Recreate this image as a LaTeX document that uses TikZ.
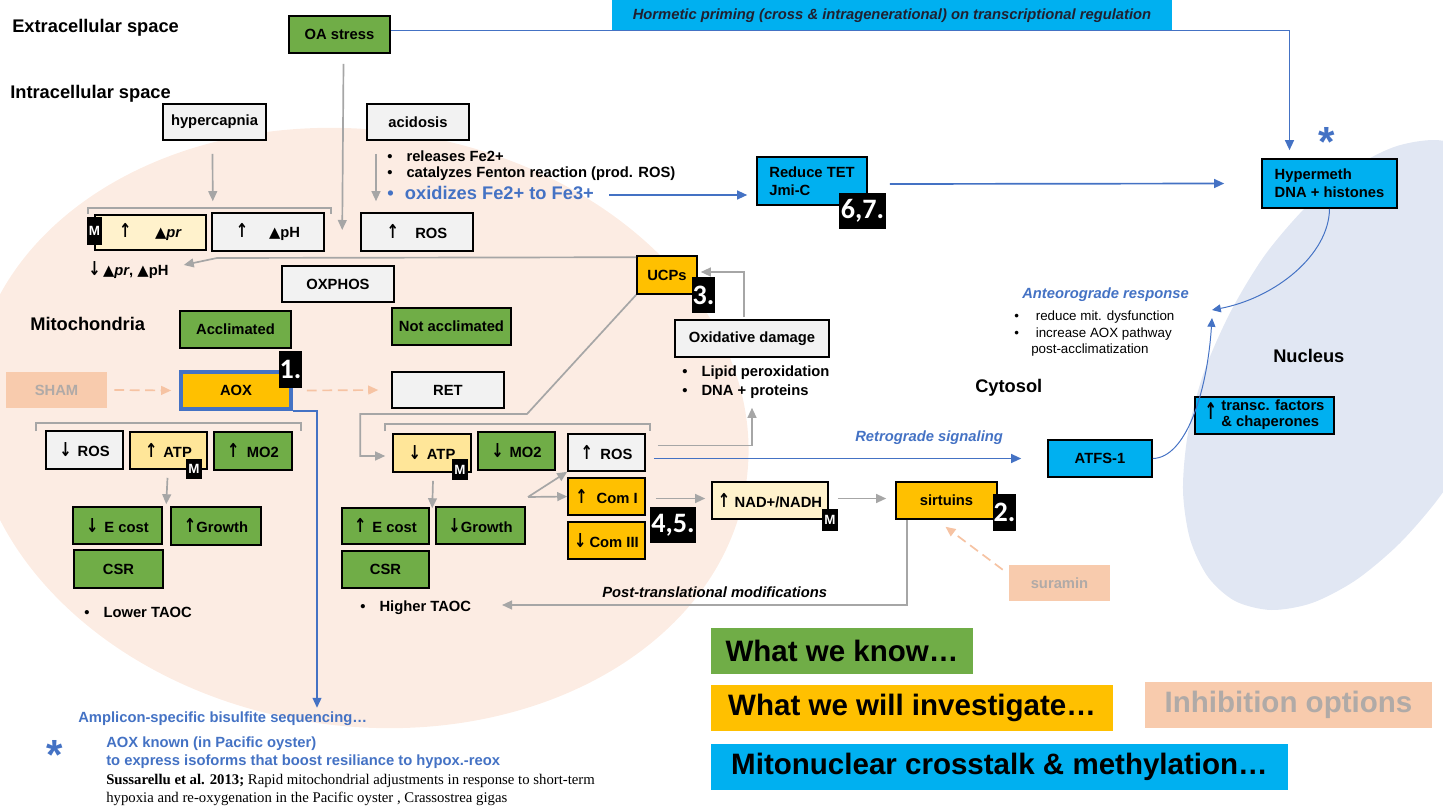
\documentclass[tikz,border=0pt]{standalone}
\usepackage{fontspec}
\setmainfont{Liberation Sans}
\newfontfamily\refserif{Liberation Serif}
\newfontfamily\digitfont{Carlito}
\newfontfamily\symfont{DejaVu Sans}
\usetikzlibrary{arrows.meta, positioning, calc}

\definecolor{knowgreen}{HTML}{70AD47}
\definecolor{investorange}{HTML}{FFC000}
\definecolor{crossblue}{HTML}{00B0F0}
\definecolor{boxgrey}{HTML}{F2F2F2}
\definecolor{paleyellow}{HTML}{FFF2CC}
\definecolor{atpyellow}{HTML}{FFE699}
\definecolor{inhibpeach}{HTML}{F8CBAD}
\definecolor{inhibtext}{HTML}{B0AAA7}
\definecolor{dashpeach}{HTML}{F6C3A3}
\definecolor{mitofill}{HTML}{FCECE3}
\definecolor{nucfill}{HTML}{E1E7F3}
\definecolor{linkblue}{HTML}{4472C4}
\definecolor{arrowgrey}{HTML}{A6A6A6}
\definecolor{bannertext}{HTML}{202030}

\newcommand\boxfont{\fontsize{10.5}{12.6}\selectfont\bfseries}
\newcommand\regionfont{\fontsize{13}{15}\selectfont\bfseries}
\newcommand\mfont{\fontsize{9.5}{10}\selectfont\bfseries}
\newcommand\numfont{\digitfont\fontsize{20}{20}\selectfont\bfseries}
\newcommand\slantfont{\fontsize{10.5}{12.6}\selectfont\bfseries\itshape}
\newcommand\anteofont{\fontsize{9.5}{11}\selectfont}
\newcommand\reffont{\refserif\fontsize{10.5}{12.6}\selectfont}
\newcommand\legendfont{\fontsize{21}{24}\selectfont\bfseries}
\newcommand\astfont{\fontsize{30}{30}\selectfont\bfseries}
\newcommand\upar{\scalebox{1}[1.3]{\symfont ↑}}
\newcommand\dnar{\scalebox{1}[1.3]{\symfont ↓}}
\newcommand\tri{{\symfont ▲}}
\newcommand\bul{\textbullet\hspace{10pt}}

\begin{document}
\begin{tikzpicture}[
  x=0.025cm, y=-0.025cm,
  wh/.style 2 args = {minimum width=#1*0.025cm, minimum height=#2*0.025cm},
  box/.style = {draw, line width=1.1pt, inner sep=1pt, align=center, font=\boxfont},
  know/.style = {box, fill=knowgreen},
  invest/.style = {box, fill=investorange},
  greybox/.style = {box, fill=boxgrey},
  pale/.style = {box, fill=paleyellow},
  atp/.style = {box, fill=atpyellow},
  xtalk/.style = {box, fill=crossblue},
  inhib/.style = {fill=inhibpeach, text=inhibtext, inner sep=1pt, font=\boxfont},
  mtag/.style = {fill=black, text=white, inner sep=0pt, font=\mfont},
  numtag/.style = {fill=black, text=white, inner sep=0pt, font=\numfont},
  region/.style = {anchor=west, inner sep=0pt, font=\regionfont},
  bulletnote/.style = {anchor=west, inner sep=0pt, align=left, font=\boxfont},
  legendbox/.style = {inner sep=0pt, font=\legendfont},
  greyarrow/.style = {draw=arrowgrey, line width=1.2pt, -{Triangle[length=2.5mm, width=2.2mm]}},
  bluearrow/.style = {draw=linkblue, line width=1.2pt, -{Triangle[length=2.5mm, width=2.2mm]}},
  bluecurve/.style = {draw=linkblue, line width=0.7pt, -{Triangle[length=2.2mm, width=2mm]}},
  inhibarrow/.style = {draw=dashpeach, line width=1.2pt, dash pattern=on 7pt off 4pt, -{Triangle[length=2.5mm, width=2.2mm]}},
  bracket/.style = {draw=arrowgrey, line width=1.2pt}
]
  \useasboundingbox (0,0) rectangle (1443,809);

  % Compartments
  \fill[mitofill, rotate around={-8:(360,428)}] (360,428) ellipse [x radius=9.75cm, y radius=7.45cm];
  \fill[nucfill] plot[smooth cycle] coordinates {
    (1471,149) (1498,173) (1516,211) (1523,260) (1518,317) (1502,378)
    (1475,439) (1441,495) (1400,543) (1356,580) (1312,603) (1271,610)
    (1235,601) (1208,577) (1190,539) (1183,490) (1188,433) (1204,372)
    (1231,311) (1265,255) (1306,207) (1350,170) (1394,147) (1435,140)};

  \node[region] (extra) at (12,28) {Extracellular space};
  \node[region] (intra) at (10,94) {Intracellular space};
  \node[region] (mitolabel) at (30,324) {Mitochondria};
  \node[region] (cytosol) at (975,388) {Cytosol};
  \node[region] (nucleus) at (1273,356) {Nucleus};

  % Stress input
  \node[know, wh={101}{37}] (oastress) at (339.5,34.5) {OA stress};
  \node[fill=crossblue, text=bannertext, inner sep=0pt, wh={560}{31}, font=\slantfont] (hormetic) at (892,15.5) {Hormetic priming (cross \& intragenerational) on transcriptional regulation};
  \node[greybox, wh={103}{36}] (hypercapnia) at (214.5,122) {hypercapnia};
  \node[greybox, wh={102}{36}] (acidosis) at (418,122) {acidosis};
  \node[bulletnote] (fe) at (387,156) {\bul releases Fe2+};
  \node[bulletnote] (fenton) at (387,174) {\bul catalyzes Fenton reaction (prod. ROS)};
  \node[bulletnote, text=linkblue, font=\regionfont] (oxidizes) at (387,193) {\textbullet\hspace{8pt}oxidizes Fe2+ to Fe3+};

  \node[pale, wh={111}{35}] (prbox) at (150.5,232.5) {\upar\hspace{1.6em}\tri\textit{pr}};
  \node[greybox, wh={112}{38}] (phbox) at (268,232) {\upar\hspace{1.4em}\tri pH};
  \node[greybox, wh={112}{38}] (rostop) at (417,232) {\upar\hspace{1.1em}ROS};
  \node[mtag, wh={15}{28}] (mpr) at (94.5,231) {M};
  \node[bulletnote] (prdown) at (88,270) {\dnar\,\tri\textit{pr}, \tri pH};

  % Mitochondria
  \node[greybox, wh={112}{36}] (oxphos) at (338,284) {OXPHOS};
  \node[know, wh={111}{37}] (acclim) at (235.5,329.5) {Acclimated};
  \node[know, wh={119}{37}] (notacclim) at (451.5,326.5) {Not acclimated};
  \node[inhib, wh={101}{36}] (sham) at (56.5,390) {SHAM};
  \node[invest, draw=linkblue, line width=2.6pt, wh={110}{37}] (aox) at (236,390.5) {AOX};
  \node[numtag, wh={23}{37}] (tag1) at (290.5,369.5) {1.};
  \node[greybox, wh={112}{36}] (ret) at (448,390) {RET};

  % Acclimated branch
  \node[greybox, wh={77}{38}] (rosdown) at (84.5,450) {\dnar\hspace{0.4em}ROS};
  \node[atp, wh={77}{37}] (atpup) at (168.5,450.5) {\upar\hspace{0.4em}ATP};
  \node[know, wh={78}{38}] (mo2up) at (253,451) {\upar\hspace{0.5em}MO2};
  \node[mtag, wh={16}{20}] (matpup) at (194,468.5) {M};
  \node[know, wh={89}{37}] (ecostdown) at (117.5,525.5) {\dnar\hspace{0.4em}E cost};
  \node[know, wh={90}{38}] (growthup) at (216,526) {\upar Growth};
  \node[know, wh={89}{38}] (csrlow) at (118.5,569) {CSR};
  \node[bulletnote] (lowertaoc) at (84,612) {\bul Lower TAOC};

  % Not acclimated branch
  \node[atp, wh={78}{38}] (atpdown) at (432,453) {\dnar\hspace{0.4em}ATP};
  \node[know, wh={77}{38}] (mo2down) at (516.5,451) {\dnar\hspace{0.4em}MO2};
  \node[greybox, wh={77}{37}] (rosmid) at (606.5,452.5) {\upar\hspace{0.5em}ROS};
  \node[invest, wh={77}{37}] (comi) at (606.5,496.5) {\upar\hspace{0.6em}Com I};
  \node[invest, wh={77}{37}] (comiii) at (606.5,540.5) {\dnar\hspace{0.2em}Com III};
  \node[mtag, wh={16}{21}] (matpdown) at (460,469.5) {M};
  \node[numtag, wh={46}{36}] (tag45) at (673,525) {4,5.};
  \node[know, wh={87}{36}] (ecostup) at (385.5,526) {\upar\hspace{0.4em}E cost};
  \node[know, wh={89}{37}] (growthdown) at (480.5,525.5) {\dnar Growth};
  \node[know, wh={87}{37}] (csrhigh) at (385.5,569.5) {CSR};
  \node[bulletnote] (highertaoc) at (360,608) {\bul Higher TAOC};

  % Damage and uncoupling
  \node[invest, wh={60}{38}] (ucps) at (667,275) {UCPs};
  \node[numtag, wh={23}{36}] (tag3) at (703.5,295) {3.};
  \node[greybox, wh={154}{37}] (oxdamage) at (752,338.5) {Oxidative damage};
  \node[bulletnote] (lipid) at (682,373) {\bul Lipid peroxidation};
  \node[bulletnote] (dna) at (682,392) {\bul DNA + proteins};

  % NAD and sirtuins
  \node[pale, wh={116}{37}] (nad) at (770,500.5) {\upar\hspace{0.3em}NAD+/NADH};
  \node[mtag, wh={16}{22}] (mnad) at (830,520) {M};
  \node[invest, wh={101}{37}] (sirtuins) at (946.5,500.5) {sirtuins};
  \node[numtag, wh={23}{37}] (tag2) at (1004.5,512.5) {2.};
  \node[inhib, wh={101}{36}] (suramin) at (1059.5,583) {suramin};
  \node[bulletnote, font=\slantfont] (ptm) at (602,592) {Post-translational modifications};

  % Nuclear side
  \node[xtalk, wh={110}{48}, align=left] (reducetet) at (812,181) {Reduce TET\\Jmi-C};
  \node[numtag, wh={47}{36}] (tag67) at (862.5,211) {6,7.};
  \node[font=\astfont, text=linkblue, inner sep=0pt] (astop) at (1327,142) {*};
  \node[xtalk, wh={135}{49}, align=left] (hypermeth) at (1329.5,183.5) {Hypermeth\\DNA + histones};
  \node[xtalk, wh={104}{37}] (atfs) at (1100,458.5) {ATFS-1};
  \node[xtalk, wh={139}{37}, font=\fontsize{10.5}{11.5}\selectfont\bfseries] (transc) at (1264.5,415.5)
    {\scalebox{1}[1.2]{\upar}\hspace{0.3em}\begin{tabular}[c]{@{}l@{}}transc. factors\\ \& chaperones\end{tabular}};
  \node[bulletnote, text=linkblue, font=\slantfont] (retro) at (855,438) {Retrograde signaling};
  \node[bulletnote, text=linkblue, font=\slantfont] (anteo) at (1022,295) {Anteorograde response};
  \node[bulletnote, font=\anteofont] (anteoa) at (1014,317) {\textbullet\hspace{12pt}reduce mit. dysfunction};
  \node[bulletnote, font=\anteofont] (anteob) at (1014,334) {\textbullet\hspace{12pt}increase AOX pathway};
  \node[bulletnote, font=\anteofont] (anteoc) at (1031,350) {post-acclimatization};

  % Notes below
  \node[bulletnote, text=linkblue] (amplicon) at (78,719) {Amplicon-specific bisulfite sequencing…};
  \node[font=\astfont, text=linkblue, inner sep=0pt] (astbottom) at (55,755) {*};
  \node[bulletnote, text=linkblue] (aoxknown) at (106,744) {AOX known (in Pacific oyster)};
  \node[bulletnote, text=linkblue] (isoforms) at (106,762) {to express isoforms that boost resiliance to hypox.-reox};
  \node[bulletnote, font=\reffont] (refa) at (106,781) {\textbf{Sussarellu et al. 2013;} Rapid mitochondrial adjustments in response to short-term};
  \node[bulletnote, font=\reffont] (refb) at (106,799) {hypoxia and re-oxygenation in the Pacific oyster , Crassostrea gigas};

  % Legend
  \node[legendbox, fill=knowgreen, wh={262}{46}] (legknow) at (842,651) {What we know…};
  \node[legendbox, fill=investorange, wh={402}{46}] (leginvest) at (912,708) {What we will investigate…};
  \node[legendbox, fill=inhibpeach, text=inhibtext, wh={287}{46}] (leginhib) at (1288.5,705) {Inhibition options};
  \node[legendbox, fill=crossblue, wh={577}{46}] (legxtalk) at (999.5,767) {Mitonuclear crosstalk \& methylation…};

  % Bends and free ends
  \coordinate (pbend) at (217,258);
  \coordinate (ucpbend) at (527,414);
  \coordinate (fork) at (528,497);
  \coordinate (ptmend) at (502,605);
  \coordinate (anteoend) at (1212,310);
  \coordinate (anteoup) at (1212,318);

  % Connections
  \draw[bluearrow] ($(oastress.east)+(0,-4)$) -| ($(hypermeth.north)+(-40,-8)$);
  \draw[greyarrow] ($(oastress.south)+(4,10)$) -- ($(rostop.west)+(-18,-2)$);
  \draw[greyarrow] ($(hypercapnia.south)+(-2,13)$) -- ($(prbox.north east)+(6,-13)$);
  \draw[greyarrow] ($(acidosis.south)+(-42,13)$) -- ($(rostop.north)+(-41,-11)$);
  \draw[bracket] ($(prbox.north west)+(-6,0)$) -- ++(0,-6) -| ($(phbox.north east)+(6,2)$);
  \draw[greyarrow] ($(ucps.north west)+(0,2)$) -- (pbend) -- ($(prdown.east)+(15,-5)$);

  \draw[inhibarrow] ($(sham.east)+(7,0)$) -- ($(aox.west)+(-8,0)$);
  \draw[inhibarrow] ($(aox.east)+(14,0)$) -- ($(ret.west)+(-13,0)$);
  \draw[bluearrow] (aox.south east) -| ($(amplicon.north west)+(239,-4)$);

  \draw[bracket] ($(rosdown.north west)+(-9,1)$) -- ++(0,-8) -| ($(mo2up.north east)+(8,0)$);
  \draw[greyarrow] ($(atpup.south)+(-1,8)$) -- ($(growthup.north west)+(-4,-2)$);

  \draw[greyarrow] (ucps.south west) -- (ucpbend) -| ($(atpdown.west)+(-32,3)$) -- ($(atpdown.west)+(-7,3)$);
  \draw[bracket] ($(atpdown.north west)+(-7,-2)$) -- ++(0,-7) -| ($(rosmid.north east)+(4,-2)$);
  \draw[greyarrow] ($(atpdown.south)+(1,8)$) -- ($(growthdown.north west)+(-3,2)$);
  \draw[greyarrow] (fork) -- (rosmid.south west);
  \draw[greyarrow] (fork) -- (comi.west);

  \draw[greyarrow] ($(rosmid.east)+(12,-7)$) -| ($(oxdamage.south)+(0,50)$);
  \draw[greyarrow] ($(oxdamage.north)+(-8,-2)$) |- ($(ucps.east)+(3,-3)$);
  \draw[bluearrow] ($(rosmid.east)+(8,6)$) -- ($(atfs.west)+(-26,0)$);
  \draw[greyarrow] ($(comi.east)+(10,2)$) -- ($(nad.west)+(-6,-2)$);
  \draw[greyarrow] ($(nad.east)+(9,-2)$) -- ($(sirtuins.west)+(-9,-2)$);
  \draw[inhibarrow] ($(suramin.north west)+(-6,5)$) -- ($(sirtuins.south)+(-1,7)$);
  \draw[greyarrow] ($(sirtuins.south west)+(12,0)$) |- (ptmend);

  \draw[bluearrow] ($(oxidizes.east)+(15,2)$) -- ($(oxidizes.east -| reducetet.west)+(-9,2)$);
  \draw[bluearrow] ($(reducetet.east)+(22,3)$) -- ($(hypermeth.west)+(-37,0)$);
  \draw[bluecurve] (hypermeth.south) .. controls (1329,255) and (1275,298) .. (anteoend);
  \draw[bluecurve] (atfs.east) .. controls (1185,458) and (1207,395) .. (anteoup);

\end{tikzpicture}
\end{document}
